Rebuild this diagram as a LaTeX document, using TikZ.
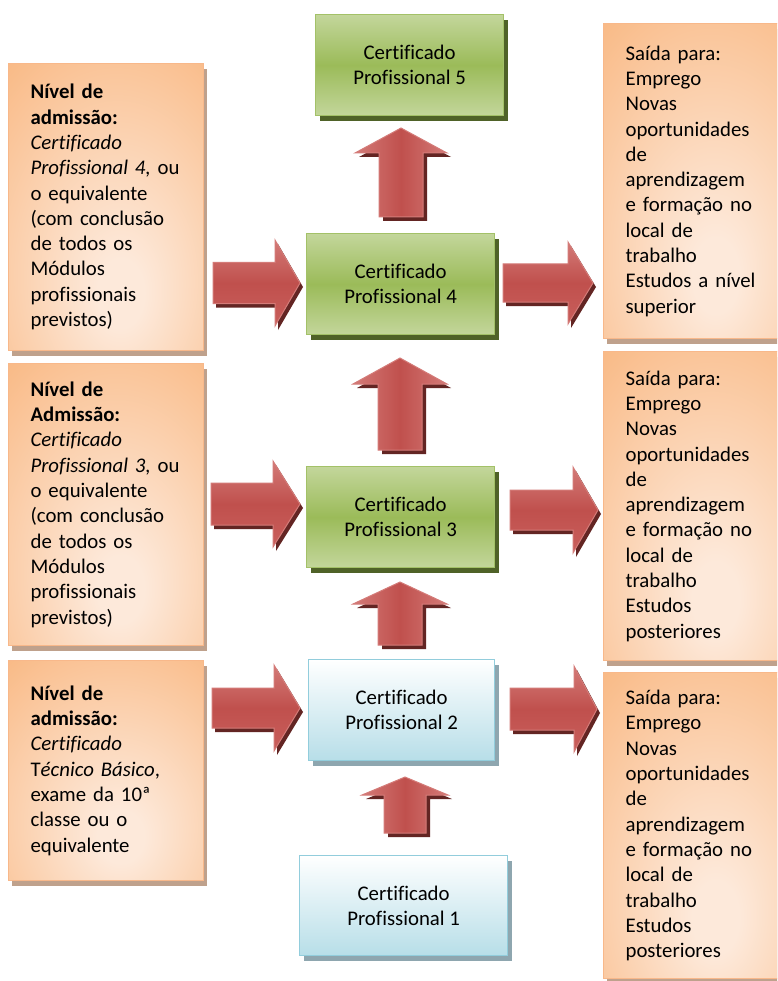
\documentclass[tikz,border=0pt]{standalone}
\usepackage{fontspec}
\setmainfont{Carlito}[Ligatures=NoCommon]
\usetikzlibrary{shadows}
\definecolor{orng}{HTML}{F9BA86}
\definecolor{pale}{HTML}{FDE9DA}
\definecolor{orngline}{HTML}{F8B88A}
\definecolor{orngshadow}{HTML}{BFA18C}
\definecolor{grnlight}{HTML}{C3D69B}
\definecolor{grnmid}{HTML}{9BBB59}
\definecolor{grnline}{HTML}{A3C168}
\definecolor{grnshadow}{HTML}{4F6228}
\definecolor{bluebot}{HTML}{B7DEE8}
\definecolor{blueline}{HTML}{92CDDC}
\definecolor{blueshadow}{HTML}{8EA6AF}
\definecolor{redmid}{HTML}{C0504D}
\definecolor{redlight}{HTML}{D37A77}
\definecolor{redlow}{HTML}{C95F5C}
\definecolor{redline}{HTML}{D47B78}
\definecolor{redshadow}{HTML}{632523}
\pgfdeclareradialshading{peachshade}{\pgfpoint{4bp}{-16bp}}{color(0bp)=(pale); color(6bp)=(pale); color(44bp)=(orng); color(100bp)=(orng)}
\newcommand\rblock[6]{% tail x, tip x, centre y, shaft half, head half, head length
  \begin{scope}[shift={(3,4)}]
    \fill[redshadow] ({#1},{#3-#4}) -- ({#2-#6},{#3-#4}) -- ({#2-#6},{#3-#5}) -- ({#2},{#3}) -- ({#2-#6},{#3+#5}) -- ({#2-#6},{#3+#4}) -- ({#1},{#3+#4}) -- cycle;
  \end{scope}
  \shade[hblock] ({#1},{#3-#4}) -- ({#2-#6},{#3-#4}) -- ({#2-#6},{#3-#5}) -- ({#2},{#3}) -- ({#2-#6},{#3+#5}) -- ({#2-#6},{#3+#4}) -- ({#1},{#3+#4}) -- cycle;
  \draw[redline, line width=1pt, line join=miter] ({#1},{#3-#4}) -- ({#2-#6},{#3-#4}) -- ({#2-#6},{#3-#5}) -- ({#2},{#3}) -- ({#2-#6},{#3+#5}) -- ({#2-#6},{#3+#4}) -- ({#1},{#3+#4}) -- cycle;
}
\newcommand\ublock[6]{% bottom y, tip y, centre x, shaft half, head half, head length
  \begin{scope}[shift={(4,4)}]
    \fill[redshadow] ({#3-#4},{#1}) -- ({#3-#4},{#2+#6}) -- ({#3-#5},{#2+#6}) -- ({#3},{#2}) -- ({#3+#5},{#2+#6}) -- ({#3+#4},{#2+#6}) -- ({#3+#4},{#1}) -- cycle;
  \end{scope}
  \shade[vblock] ({#3-#4},{#1}) -- ({#3-#4},{#2+#6}) -- ({#3-#5},{#2+#6}) -- ({#3},{#2}) -- ({#3+#5},{#2+#6}) -- ({#3+#4},{#2+#6}) -- ({#3+#4},{#1}) -- cycle;
  \draw[redline, line width=1pt] ({#3-#4},{#1}) -- ({#3-#4},{#2+#6}) -- ({#3-#5},{#2+#6}) -- ({#3},{#2}) -- ({#3+#5},{#2+#6}) -- ({#3+#4},{#2+#6}) -- ({#3+#4},{#1}) -- cycle;
}
\tikzset{
  hblock/.style={top color=redlight, bottom color=redlow, middle color=redmid},
  vblock/.style={left color=redlight, right color=redlight, middle color=redmid},
  txt/.style={font=\fontsize{20.8pt}{25.3pt}\selectfont},
  sidebox/.style={txt, rectangle, anchor=north west, draw=orngline, line width=1.2pt,
    shading=peachshade, minimum width=195pt, text width=151pt, inner xsep=22pt, align=left,
    general shadow={fill=orngshadow, shadow xshift=3pt, shadow yshift=-5pt}},
  greenbox/.style={txt, rectangle, anchor=north west, draw=grnline, line width=1.2pt,
    top color=grnlight, bottom color=grnlight, middle color=grnmid,
    minimum width=188pt, minimum height=101pt, align=center,
    general shadow={fill=grnshadow, shadow xshift=4pt, shadow yshift=-5pt}},
  bluebox/.style={txt, rectangle, anchor=north west, draw=blueline, line width=1.2pt,
    top color=white, bottom color=bluebot,
    minimum height=101pt, align=center,
    general shadow={fill=blueshadow, shadow xshift=4pt, shadow yshift=-5pt}}
}
\begin{document}
\begin{tikzpicture}[x=1pt, y=-1pt]
\clip (0,0) rectangle (777,981);
\useasboundingbox (0,0) rectangle (777,981);
\fill[white] (0,0) rectangle (777,981);

% left entry boxes
\node[sidebox, minimum height=287pt] (l4) at (8,63) {\textbf{Nível de}\\\textbf{admissão:}\\\textit{Certificado}\\\textit{Profissional 4,} ou\\o equivalente\\(com conclusão\\de todos os\\Módulos\\profissionais\\previstos)};
\node[sidebox, minimum height=282pt] (l3) at (8,363) {\textbf{Nível de}\\\textbf{Admissão:}\\\textit{Certificado}\\\textit{Profissional 3,} ou\\o equivalente\\(com conclusão\\de todos os\\Módulos\\profissionais\\previstos)};
\node[sidebox, minimum height=220pt] (l2) at (8,660) {\textbf{Nível de}\\\textbf{admissão:}\\\textit{Certificado}\\T\textit{écnico Básico},\\exame da 10ª\\classe ou o\\equivalente};

% right exit boxes
\node[sidebox, minimum height=315pt] (r4) at (603,23) {Saída para:\\Emprego\\Novas\\oportunidades\\de\\aprendizagem\\e formação no\\local de\\trabalho\\Estudos a nível\\superior};
\node[sidebox, minimum height=309pt] (r3) at (603,351) {Saída para:\\Emprego\\Novas\\oportunidades\\de\\aprendizagem\\e formação no\\local de\\trabalho\\Estudos\\posteriores};
\node[sidebox, minimum height=306pt] (r2) at (603,672) {Saída para:\\Emprego\\Novas\\oportunidades\\de\\aprendizagem\\e formação no\\local de\\trabalho\\Estudos\\posteriores};

% central certificates
\node[greenbox] (c5) at (315,14) {Certificado\\Profissional 5};
\node[greenbox] (c4) at (306,233) {Certificado\\Profissional 4};
\node[greenbox] (c3) at (306,466) {Certificado\\Profissional 3};
\node[bluebox, minimum width=186pt] (c2) at (308,659) {Certificado\\Profissional 2};
\node[bluebox, minimum width=208pt, minimum height=100pt] (c1) at (299,855) {Certificado\\Profissional 1};

% up arrows
\ublock{217}{128}{401}{22}{46}{25}
\ublock{450}{358}{400}{22}{47}{26}
\ublock{645}{582}{400}{22}{47}{22}
\ublock{833}{777}{405}{21}{43}{18}

% arrows from the entry boxes
\rblock{213}{300}{283}{20.5}{43}{25}
\rblock{211}{300}{504}{21}{43}{27}
\rblock{212}{300}{708}{20}{43}{26}

% arrows to the exit boxes
\rblock{503}{593}{283}{19}{41}{25}
\rblock{510}{598}{510}{20}{43}{25}
\rblock{510}{597}{709}{21}{43}{23}
\end{tikzpicture}
\end{document}
